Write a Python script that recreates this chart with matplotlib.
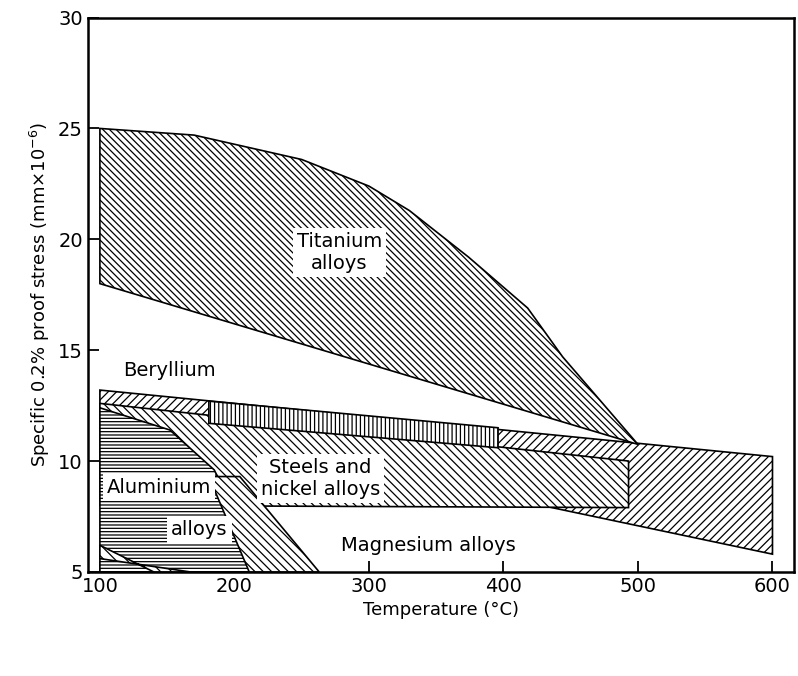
import matplotlib
matplotlib.use("Agg")
import matplotlib.pyplot as plt
import numpy as np

plt.rcParams["hatch.linewidth"] = 0.9

# region outlines (temperature °C, specific proof stress)
ti_upper_t = [100, 170, 250, 300, 330, 374, 418, 444]
ti_upper_s = [25.0, 24.7, 23.6, 22.4, 21.3, 19.2, 16.9, 14.7]
ti_lower_t = [500, 100]
ti_lower_s = [10.75, 18.0]

be_t = [100, 600, 600, 100]
be_s = [13.2, 10.2, 5.8, 12.2]
be_vert_t = [181, 396, 396, 181]
be_vert_s = [12.7, 11.5, 10.6, 11.7]

st_t = [100, 493, 493, 100]
st_s = [12.6, 10.0, 7.9, 8.0]

al_t = [100, 152, 185, 204, 215, 100]
al_s = [12.4, 11.4, 9.6, 7.3, 5.0, 5.0]

mg_t = [181, 204, 263, 211]
mg_s = [9.3, 9.3, 5.0, 5.0]

low_t = [100, 100, 167, 140]
low_s = [6.2, 5.6, 5.0, 5.0]

fig = plt.figure(figsize=(7.98, 6.76), dpi=100)
ax = fig.add_axes([0.11, 0.154, 0.885, 0.82])

def region(t, s, hatch, z=1):
    ax.fill(t, s, facecolor="white", edgecolor="black", hatch=hatch, lw=1.2, zorder=z)

region(be_t, be_s, "////", 1)
region(st_t, st_s, "\\\\\\\\", 2)
region(be_vert_t, be_vert_s, "||||", 3)
region(ti_upper_t + ti_lower_t, ti_upper_s + ti_lower_s, "\\\\\\\\\\", 4)
region(al_t, al_s, "-----", 2)
region(mg_t, mg_s, "\\\\\\\\", 3)
region(low_t, low_s, "\\\\\\", 3)

box = dict(facecolor="white", edgecolor="none", pad=3)
labels = [
    (278, 19.4, "Titanium\nalloys"),
    (152, 14.1, "Beryllium"),
    (264, 9.2, "Steels and\nnickel alloys"),
    (144, 8.8, "Aluminium"),
    (174, 6.9, "alloys"),
    (344, 6.2, "Magnesium alloys"),
]
for x, y, txt in labels:
    ax.text(x, y, txt, ha="center", va="center", fontsize=14, bbox=box, zorder=6,
            linespacing=1.2)

ax.set_xlim(91, 616)
ax.set_ylim(5, 30)
ax.set_xticks([100, 200, 300, 400, 500, 600])
ax.set_yticks([5, 10, 15, 20, 25, 30])
ax.tick_params(labelsize=14, direction="in", length=8, width=1.3)
for sp in ax.spines.values():
    sp.set_linewidth(1.8)
ax.set_xlabel("Temperature (°C)", fontsize=13)
ax.set_ylabel("Specific 0.2% proof stress (mm$\\times$10$^{-6}$)", fontsize=13)

fig.savefig("out.png", dpi=100)
